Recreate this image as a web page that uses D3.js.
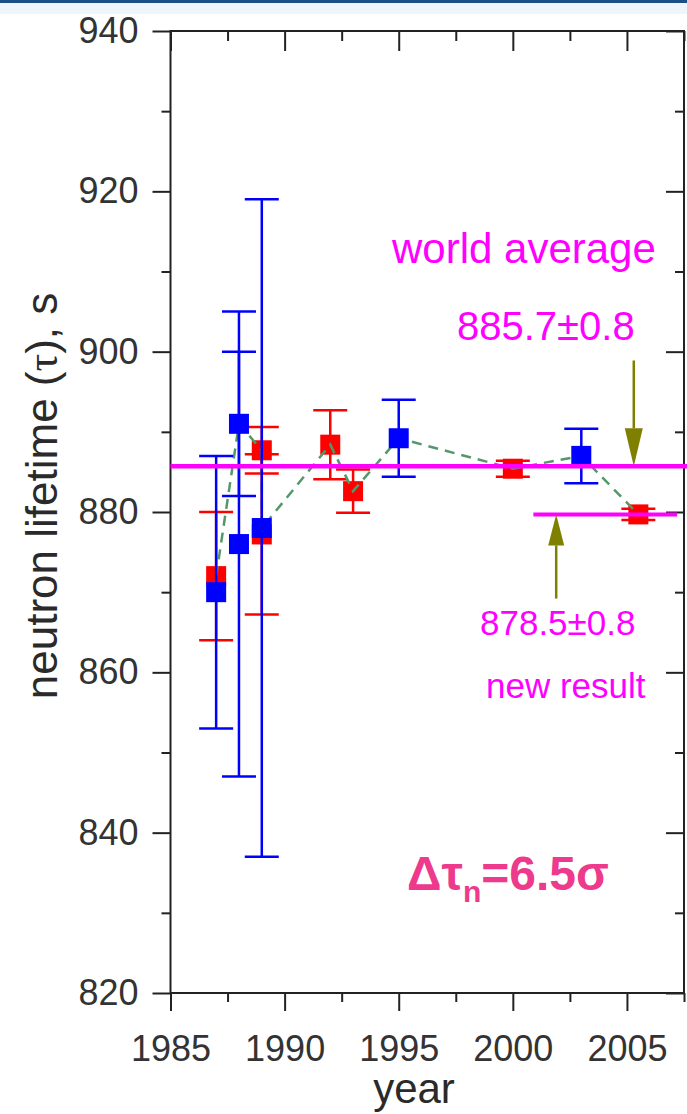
<!DOCTYPE html>
<html>
<head>
<meta charset="utf-8">
<script src="https://cdn.jsdelivr.net/npm/d3@7"></script>
<style>
  body { margin: 0; background: #fff; }
  svg { display: block; }
</style>
</head>
<body>
<div id="chart"></div>
<script>
// Red series (year, lifetime, error)
const redYears  = [1987, 1989, 1989, 1992, 1993, 2000, 2005.5];
const redValues = [872, 887.7, 877.2, 888.4, 882.6, 885.4, 879.7];
const redErrors = [8, 2.9, 10, 4.3, 2.7, 1, 0.7];

// Blue series
const blueYears  = [1987, 1988, 1988, 1989, 1995, 2003];
const blueValues = [870, 891, 876, 878, 889.2, 887];
const blueErrors = [17, 9, 29, 41, 4.8, 3.4];

// Dashed guide line through the points
const trendYears  = [1987, 1988, 1989, 1989, 1992, 1993, 1995, 2000, 2003, 2005.5];
const trendValues = [872, 891, 887.7, 878, 888.4, 882.6, 889.2, 885.4, 887, 879.7];

// Reference lines
const worldAverage = 885.7;
const newResult = 879.7;
const newResultSpan = [2000.9, 2007.2];

// Axis ticks
const xTicks = [1985, 1990, 1995, 2000, 2005];
const xMinor = [1987.5, 1992.5, 1997.5, 2002.5, 2007.5];
const yTicks = [820, 840, 860, 880, 900, 920, 940];
const yMinor = [830, 850, 870, 890, 910, 930];

const W = 687, H = 1114;
const font = '"Liberation Sans", Arial, sans-serif';

const svg = d3.select('#chart').append('svg')
    .attr('width', W)
    .attr('height', H);

svg.append('rect').attr('width', W).attr('height', H).attr('fill', '#fff');
// top strip
svg.append('rect').attr('x', 0).attr('y', 0).attr('width', W).attr('height', 14).attr('fill', '#eef6fb');
svg.append('rect').attr('x', 0).attr('y', 0).attr('width', W).attr('height', 3).attr('fill', '#1d4f86');

const x = d3.scaleLinear().domain([1985, 2007.5]).range([170.5, 684]);
const y = d3.scaleLinear().domain([820, 940]).range([993, 31]);

const axisColor = '#222';

// Left axis
svg.append('g').attr('transform', `translate(${x(1985)},0)`)
    .call(d3.axisLeft(y).tickValues(yTicks).tickSize(18).tickPadding(14).tickFormat(d3.format('d')));
svg.append('g').attr('transform', `translate(${x(1985)},0)`)
    .call(d3.axisLeft(y).tickValues(yMinor).tickSize(9).tickFormat(''));

// Bottom axis
svg.append('g').attr('transform', `translate(0,${y(820)})`)
    .call(d3.axisBottom(x).tickValues(xTicks).tickSize(18).tickPadding(24).tickFormat(d3.format('d')));
svg.append('g').attr('transform', `translate(0,${y(820)})`)
    .call(d3.axisBottom(x).tickValues(xMinor).tickSize(9).tickFormat(''));

// Top and right axes (ticks point inward)
svg.append('g').attr('transform', `translate(0,${y(940)})`)
    .call(d3.axisBottom(x).tickValues(xTicks).tickSize(20).tickFormat(''));
svg.append('g').attr('transform', `translate(0,${y(940)})`)
    .call(d3.axisBottom(x).tickValues(xMinor).tickSize(10).tickFormat(''));
svg.append('g').attr('transform', `translate(${x(2007.5)},0)`)
    .call(d3.axisLeft(y).tickValues(yTicks).tickSize(18).tickFormat(''));
svg.append('g').attr('transform', `translate(${x(2007.5)},0)`)
    .call(d3.axisLeft(y).tickValues(yMinor).tickSize(9).tickFormat(''));

svg.selectAll('.domain').remove();
svg.selectAll('.tick line').attr('stroke', axisColor).attr('stroke-width', 2);
svg.selectAll('.tick text')
    .attr('fill', '#333')
    .style('font-family', font)
    .style('font-size', '36px');

// Frame
svg.append('rect')
    .attr('x', x(1985)).attr('y', y(940))
    .attr('width', x(2007.5) - x(1985))
    .attr('height', y(820) - y(940))
    .attr('fill', 'none')
    .attr('stroke', axisColor)
    .attr('stroke-width', 2);

// Axis titles
svg.append('text')
    .attr('x', 414).attr('y', 1103)
    .attr('text-anchor', 'middle')
    .style('font-family', font).style('font-size', '42px')
    .attr('fill', '#2a2a2a')
    .text('year');

const yTitle = svg.append('text')
    .attr('transform', `translate(57,${y(882)}) rotate(-90)`)
    .attr('text-anchor', 'middle')
    .style('font-family', font).style('font-size', '44px')
    .attr('fill', '#2a2a2a');
yTitle.append('tspan').text('neutron lifetime (');
yTitle.append('tspan').style('font-family', '"Liberation Serif", serif').text('τ');
yTitle.append('tspan').text('), s');

// Error bars + squares
const capW = 34, sq = 20;
function drawSeries(years, values, errors, color) {
    const g = svg.append('g');
    const data = years.map((yr, i) => ({ yr, v: values[i], e: errors[i] }));
    g.selectAll('rect.pt').data(data).enter().append('rect')
        .attr('class', 'pt')
        .attr('x', d => x(d.yr) - sq / 2)
        .attr('y', d => y(d.v) - sq / 2)
        .attr('width', sq).attr('height', sq)
        .attr('fill', color);
    const eb = g.selectAll('g.eb').data(data).enter().append('g').attr('class', 'eb')
        .attr('stroke', color).attr('stroke-width', 2.5);
    eb.append('line')
        .attr('x1', d => x(d.yr)).attr('x2', d => x(d.yr))
        .attr('y1', d => y(d.v + d.e)).attr('y2', d => y(d.v - d.e));
    eb.append('line')
        .attr('x1', d => x(d.yr) - capW / 2).attr('x2', d => x(d.yr) + capW / 2)
        .attr('y1', d => y(d.v + d.e)).attr('y2', d => y(d.v + d.e));
    eb.append('line')
        .attr('x1', d => x(d.yr) - capW / 2).attr('x2', d => x(d.yr) + capW / 2)
        .attr('y1', d => y(d.v - d.e)).attr('y2', d => y(d.v - d.e));
    return g;
}

drawSeries(redYears, redValues, redErrors, '#ff0000');

// Dashed guide
svg.append('path')
    .datum(trendYears.map((yr, i) => [yr, trendValues[i]]))
    .attr('d', d3.line().x(d => x(d[0])).y(d => y(d[1])))
    .attr('fill', 'none')
    .attr('stroke', '#55976a')
    .attr('stroke-width', 2.5)
    .attr('stroke-dasharray', '10,7');

drawSeries(blueYears, blueValues, blueErrors, '#0000ff');

// Reference lines
svg.append('line')
    .attr('x1', x(1985)).attr('x2', W)
    .attr('y1', y(worldAverage)).attr('y2', y(worldAverage))
    .attr('stroke', '#ff00ff').attr('stroke-width', 4.5);
svg.append('line')
    .attr('x1', x(newResultSpan[0])).attr('x2', x(newResultSpan[1]))
    .attr('y1', y(newResult)).attr('y2', y(newResult))
    .attr('stroke', '#ff00ff').attr('stroke-width', 4);

// Arrows
const olive = '#7f7f00';
function arrow(yr, from, to, headLen, headW) {
    const ax = x(yr), y0 = y(from), y1 = y(to);
    const dir = y1 > y0 ? 1 : -1;
    svg.append('line')
        .attr('x1', ax).attr('x2', ax)
        .attr('y1', y0).attr('y2', y1 - dir * headLen)
        .attr('stroke', olive).attr('stroke-width', 2.5);
    svg.append('path')
        .attr('d', `M${ax - headW / 2},${y1 - dir * headLen} L${ax + headW / 2},${y1 - dir * headLen} L${ax},${y1} Z`)
        .attr('fill', olive);
}
arrow(2005.3, 898.9, worldAverage, 38, 18);
arrow(2001.9, 869.2, newResult, 31, 16);

// Annotation text
const magenta = '#ff00ff';
svg.append('text')
    .attr('x', 392).attr('y', 263)
    .style('font-family', font).style('font-size', '42px')
    .attr('fill', magenta)
    .text('world average');
svg.append('text')
    .attr('x', 457).attr('y', 340)
    .style('font-family', font).style('font-size', '40px')
    .attr('fill', magenta)
    .text('885.7±0.8');
svg.append('text')
    .attr('x', 480).attr('y', 635)
    .style('font-family', font).style('font-size', '35px')
    .attr('fill', magenta)
    .text('878.5±0.8');
svg.append('text')
    .attr('x', 486).attr('y', 698)
    .style('font-family', font).style('font-size', '35px')
    .attr('fill', magenta)
    .text('new result');

const dt = svg.append('text')
    .attr('x', 407).attr('y', 890)
    .style('font-family', font).style('font-size', '48px').style('font-weight', 'bold')
    .attr('fill', '#ee3a8c');
dt.append('tspan').text('Δτ');
dt.append('tspan').attr('dy', 12).style('font-size', '30px').text('n');
dt.append('tspan').attr('dy', -12).text('=6.5σ');
</script>
</body>
</html>
